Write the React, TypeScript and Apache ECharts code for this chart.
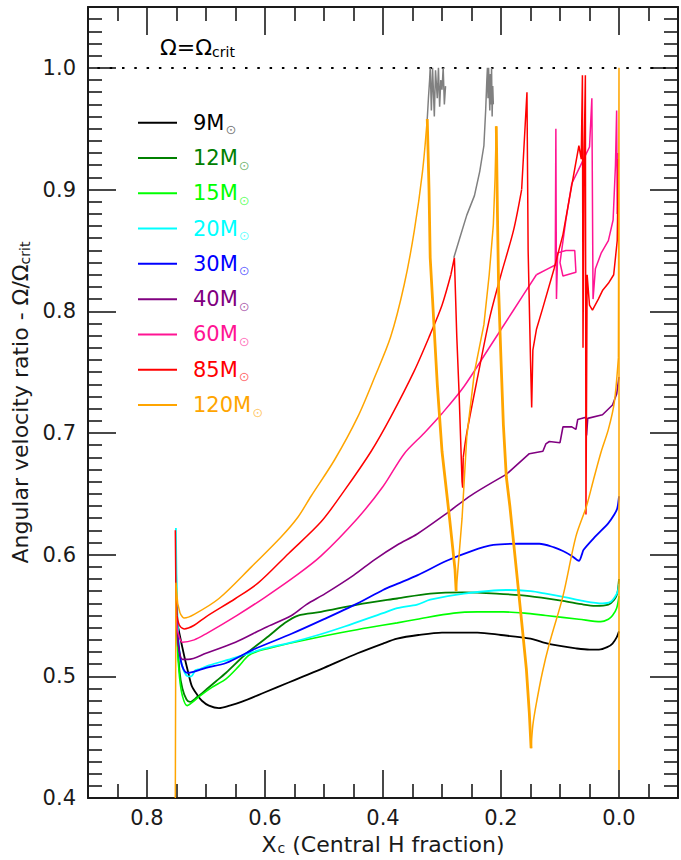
import React, { useEffect, useRef } from "react";
import * as echarts from "echarts";

const FONT = "DejaVu Sans";

const NAMES = ["9M", "12M", "15M", "20M", "30M", "40M", "60M", "85M", "120M"];
const COLORS = ["#000000", "#008000", "#00ff00", "#00ffff", "#0000ff", "#800080", "#ff1493", "#ff0000", "#ffa500"];
const SUN_COLORS = ["rgba(0,0,0,0.55)", "rgba(0,128,0,0.55)", "rgba(0,255,0,0.6)", "rgba(0,255,255,0.6)", "rgba(0,0,255,0.6)", "rgba(128,0,128,0.6)", "rgba(255,20,147,0.6)", "rgba(255,0,0,0.6)", "rgba(255,165,0,0.6)"];

const X_TICKS = [0.8, 0.6, 0.4, 0.2, 0.0];
const Y_TICKS = [0.4, 0.5, 0.6, 0.7, 0.8, 0.9, 1.0];

// 9 Msun
const m9 = [[0.751,0.55],[0.745,0.535],[0.737,0.517],[0.73,0.503],[0.724,0.492],[0.715,0.485],[0.707,0.48],[0.695,0.476],[0.678,0.474],[0.66,0.476],[0.64,0.479],[0.6,0.487],[0.56,0.495],[0.54,0.499],[0.5,0.507],[0.443,0.519],[0.4,0.527],[0.376,0.531],[0.34,0.534],[0.3,0.536],[0.27,0.536],[0.24,0.536],[0.2,0.534],[0.15,0.531],[0.129,0.528],[0.1,0.525],[0.073,0.523],[0.05,0.522],[0.034,0.522],[0.02,0.524],[0.011,0.527],[0.004,0.532],[0.0,0.537]];

// 12 Msun
const m12 = [[0.751,0.6],[0.749,0.54],[0.745,0.505],[0.74,0.49],[0.733,0.481],[0.727,0.479],[0.715,0.483],[0.7,0.489],[0.683,0.496],[0.666,0.503],[0.631,0.519],[0.594,0.533],[0.566,0.544],[0.544,0.55],[0.505,0.553],[0.443,0.559],[0.376,0.564],[0.32,0.568],[0.263,0.569],[0.208,0.568],[0.152,0.566],[0.095,0.562],[0.06,0.559],[0.04,0.558],[0.018,0.559],[0.008,0.563],[0.003,0.568],[0.0,0.58]];

// 15 Msun
const m15 = [[0.751,0.58],[0.749,0.53],[0.745,0.5],[0.74,0.484],[0.732,0.476],[0.725,0.478],[0.71,0.484],[0.69,0.491],[0.666,0.498],[0.645,0.508],[0.628,0.517],[0.61,0.521],[0.594,0.523],[0.56,0.527],[0.522,0.531],[0.47,0.536],[0.426,0.54],[0.376,0.544],[0.342,0.547],[0.28,0.552],[0.24,0.553],[0.196,0.553],[0.16,0.552],[0.124,0.55],[0.068,0.547],[0.031,0.545],[0.018,0.547],[0.011,0.55],[0.004,0.556],[0.0,0.566]];

// 20 Msun
const m20 = [[0.751,0.622],[0.749,0.56],[0.745,0.52],[0.738,0.505],[0.73,0.5],[0.725,0.5],[0.718,0.505],[0.71,0.506],[0.695,0.509],[0.66,0.514],[0.633,0.518],[0.6,0.523],[0.555,0.528],[0.51,0.534],[0.465,0.541],[0.4,0.552],[0.376,0.556],[0.342,0.559],[0.32,0.563],[0.263,0.568],[0.191,0.571],[0.15,0.57],[0.124,0.568],[0.09,0.565],[0.061,0.562],[0.028,0.56],[0.015,0.561],[0.006,0.566],[0.002,0.57],[0.0,0.576]];

// 30 Msun
const m30 = [[0.751,0.57],[0.749,0.54],[0.745,0.52],[0.74,0.508],[0.732,0.503],[0.72,0.504],[0.7,0.507],[0.666,0.511],[0.62,0.522],[0.555,0.535],[0.5,0.547],[0.443,0.56],[0.4,0.571],[0.376,0.576],[0.342,0.583],[0.292,0.595],[0.25,0.603],[0.213,0.608],[0.169,0.609],[0.135,0.609],[0.11,0.606],[0.095,0.603],[0.08,0.599],[0.068,0.595],[0.063,0.6],[0.06,0.604],[0.04,0.615],[0.018,0.626],[0.008,0.633],[0.003,0.638],[0.0,0.648]];

// 40 Msun: smooth part, then staircase
const m40a = [[0.751,0.56],[0.749,0.535],[0.745,0.52],[0.74,0.514],[0.73,0.514],[0.7,0.519],[0.65,0.528],[0.6,0.54],[0.555,0.55],[0.53,0.559],[0.498,0.568],[0.45,0.583],[0.414,0.596],[0.376,0.608],[0.342,0.617],[0.292,0.634],[0.25,0.649],[0.191,0.666]];
const m40b = [[0.191,0.666],[0.152,0.683],[0.129,0.685],[0.124,0.691],[0.118,0.693],[0.1,0.692],[0.095,0.705],[0.08,0.705],[0.073,0.703],[0.07,0.711],[0.056,0.713],[0.055,0.698],[0.053,0.712],[0.028,0.715],[0.011,0.723],[0.004,0.732],[0.0,0.746]];

// 60 Msun
const m60a = [[0.751,0.56],[0.749,0.54],[0.745,0.532],[0.74,0.528],[0.72,0.53],[0.7,0.535],[0.648,0.55],[0.6,0.565],[0.544,0.584],[0.505,0.599],[0.443,0.63],[0.4,0.656],[0.364,0.683],[0.33,0.7],[0.3,0.716],[0.263,0.738],[0.22,0.77],[0.18,0.8],[0.14,0.83]];
const m60b = [[0.14,0.83],[0.12,0.835],[0.108,0.838],[0.107,0.95],[0.106,0.81],[0.104,0.848],[0.09,0.85],[0.075,0.85],[0.073,0.832],[0.095,0.829],[0.1,0.84],[0.09,0.875],[0.08,0.905],[0.07,0.915],[0.06,0.925],[0.05,0.935],[0.046,0.975],[0.044,0.81],[0.04,0.835],[0.03,0.848],[0.018,0.858],[0.01,0.875],[0.006,0.92],[0.004,0.965],[0.003,0.88],[0.001,0.93]];

// 85 Msun
const m85a = [[0.752,0.62],[0.751,0.57],[0.749,0.55]];
const m85b = [[0.749,0.55],[0.745,0.542],[0.737,0.539],[0.72,0.542],[0.7,0.549],[0.65,0.564],[0.611,0.577],[0.56,0.601],[0.505,0.627],[0.465,0.653],[0.42,0.685],[0.387,0.713],[0.347,0.751],[0.32,0.781],[0.3,0.805],[0.285,0.83]];
const m85c = [[0.285,0.83],[0.279,0.844],[0.275,0.78],[0.271,0.732],[0.266,0.66],[0.265,0.655],[0.264,0.68]];
const m85d = [[0.264,0.68],[0.258,0.7],[0.24,0.745],[0.219,0.795],[0.2,0.83],[0.179,0.866],[0.165,0.9]];
const m85e = [[0.165,0.9],[0.156,0.98],[0.154,0.85],[0.15,0.76],[0.148,0.721],[0.146,0.768],[0.14,0.785],[0.129,0.803],[0.11,0.835],[0.095,0.863],[0.085,0.89],[0.068,0.936],[0.064,0.925],[0.062,0.994],[0.061,0.77],[0.059,0.93],[0.057,0.994],[0.056,0.633],[0.054,0.83],[0.05,0.805],[0.045,0.801],[0.035,0.81],[0.028,0.817],[0.018,0.823],[0.009,0.83],[0.003,0.858],[0.001,0.925]];

// 120 Msun
const m120a = [[0.752,0.4],[0.751,0.577],[0.748,0.56],[0.744,0.552]];
const m120b = [[0.744,0.552],[0.737,0.548],[0.72,0.551],[0.678,0.564],[0.623,0.59],[0.572,0.615],[0.544,0.631],[0.522,0.648],[0.482,0.678],[0.443,0.713],[0.414,0.746],[0.387,0.779],[0.364,0.822],[0.347,0.866],[0.333,0.915],[0.325,0.958]];
const m120c = [[0.325,0.958],[0.322,0.9],[0.32,0.844],[0.308,0.74],[0.3,0.685],[0.287,0.629],[0.278,0.588],[0.276,0.57]];
const m120d = [[0.276,0.57],[0.271,0.6],[0.266,0.63],[0.258,0.697],[0.245,0.75],[0.229,0.789],[0.22,0.83],[0.213,0.871],[0.21,0.91],[0.208,0.952]];
const m120e = [[0.208,0.952],[0.206,0.88],[0.204,0.817],[0.2,0.76],[0.196,0.707],[0.191,0.664],[0.185,0.64],[0.174,0.588],[0.165,0.545],[0.157,0.506],[0.152,0.47],[0.149,0.441]];
const m120f = [[0.149,0.441],[0.146,0.46],[0.14,0.478],[0.13,0.503],[0.118,0.527],[0.095,0.566],[0.073,0.615],[0.055,0.64],[0.043,0.662],[0.03,0.685],[0.018,0.703],[0.008,0.725],[0.001,0.762]];
const m120g = [[0.001,0.762],[0.0,1.0],[0.0,0.423]];

// near-critical (grey) parts
const grayA = [[0.325,0.958],[0.323,0.975],[0.321,0.99],[0.32,1.0],[0.318,0.965],[0.316,1.0],[0.313,0.96],[0.311,0.998],[0.308,0.975],[0.306,1.0],[0.304,0.968],[0.302,0.99],[0.3,0.982],[0.298,1.0],[0.296,0.97],[0.294,0.985]];
const grayB = [[0.28,0.844],[0.27,0.86],[0.258,0.879],[0.245,0.895],[0.236,0.915],[0.229,0.936],[0.226,0.965],[0.224,0.99],[0.223,1.0],[0.222,0.975],[0.221,1.0],[0.219,0.965],[0.218,0.995],[0.217,0.97],[0.216,1.0],[0.215,0.96],[0.214,0.985],[0.213,0.97]];

// [model index, data, smooth, line width]
const SEGMENTS: [number, number[][], boolean, number][] = [
  [0, m9, true, 1.8],
  [1, m12, true, 1.8],
  [2, m15, true, 1.6],
  [3, m20, true, 1.8],
  [4, m30, true, 1.8],
  [5, m40a, true, 1.6],
  [5, m40b, false, 1.6],
  [6, m60a, true, 1.5],
  [6, m60b, false, 1.5],
  [7, m85a, false, 1.5],
  [7, m85b, true, 1.5],
  [7, m85c, false, 1.5],
  [7, m85d, true, 1.5],
  [7, m85e, false, 1.5],
  [8, m120a, false, 1.5],
  [8, m120b, true, 1.5],
  [8, m120c, false, 2.8],
  [8, m120d, false, 1.5],
  [8, m120e, false, 2.8],
  [8, m120f, true, 1.5],
  [8, m120g, false, 1.5],
];

const AXIS_COLOR = "#1a1a1a";

function isTick(v: number, ticks: number[]) {
  return ticks.some((t) => Math.abs(t - v) < 1e-6);
}

export default function App() {
  const ref = useRef<HTMLDivElement>(null);

  useEffect(() => {
    if (!ref.current) return;
    const chart = echarts.init(ref.current, null, { renderer: "svg" });

    const axisLineStyle = { color: AXIS_COLOR, width: 2 };
    const tickStyle = { color: AXIS_COLOR, width: 1.6 };

    const baseX = {
      type: "value",
      inverse: true,
      min: -0.1,
      max: 0.9,
      splitNumber: 5,
      splitLine: { show: false },
      axisLine: { show: true, onZero: false, lineStyle: axisLineStyle },
      axisTick: { show: true, inside: true, length: 28, lineStyle: tickStyle },
      minorTick: { show: true, splitNumber: 4, length: 14, lineStyle: tickStyle },
    };
    const baseY = {
      type: "value",
      min: 0.4,
      max: 1.05,
      interval: 0.1,
      splitLine: { show: false },
      axisLine: { show: true, onZero: false, lineStyle: axisLineStyle },
      axisTick: { show: true, inside: true, length: 28, lineStyle: tickStyle },
      minorTick: { show: true, splitNumber: 10, length: 14, lineStyle: tickStyle },
    };

    const series: any[] = SEGMENTS.map(([mi, d, sm, w], k) => ({
      name: NAMES[mi],
      type: "line",
      data: d,
      smooth: sm ? 0.3 : false,
      showSymbol: false,
      symbol: "none",
      silent: true,
      clip: true,
      color: COLORS[mi],
      lineStyle: { color: COLORS[mi], width: w },
      emphasis: { disabled: true },
      z: 2 + mi,
    }));
    series.push(
      { name: "critA", type: "line", data: grayA, showSymbol: false, symbol: "none", silent: true, color: "#808080", lineStyle: { color: "#808080", width: 1.5 }, z: 20 },
      { name: "critB", type: "line", data: grayB, showSymbol: false, symbol: "none", silent: true, color: "#808080", lineStyle: { color: "#808080", width: 1.5 }, z: 20 }
    );
    series[0].markLine = {
      silent: true,
      symbol: ["none", "none"],
      label: { show: false },
      lineStyle: { color: "#000", type: [2.5, 9.8], width: 2 },
      data: [{ yAxis: 1.0 }],
    };

    const option: any = {
      animation: false,
      backgroundColor: "#ffffff",
      textStyle: { fontFamily: FONT },
      grid: { left: 88, top: 7, width: 595, height: 796, containLabel: false },
      xAxis: [
        {
          ...baseX,
          position: "bottom",
          axisLabel: {
            show: true,
            fontSize: 21,
            fontFamily: FONT,
            color: AXIS_COLOR,
            margin: 9,
            showMinLabel: true,
            showMaxLabel: true,
            formatter: (v: number) => (isTick(v, X_TICKS) ? Math.abs(v).toFixed(1) : ""),
          },
          name: "{a|X}{b|c}{a| (Central H fraction)}",
          nameLocation: "middle",
          nameGap: 30,
          nameTextStyle: {
            color: AXIS_COLOR,
            fontFamily: FONT,
            fontSize: 22,
            rich: {
              a: { fontSize: 22, fontFamily: FONT, color: AXIS_COLOR },
              b: { fontSize: 14, fontFamily: FONT, color: AXIS_COLOR, verticalAlign: "bottom", padding: [0, 0, 0, 1] },
            },
          },
        },
        { ...baseX, position: "top", axisLabel: { show: false } },
      ],
      yAxis: [
        {
          ...baseY,
          position: "left",
          axisLabel: {
            show: true,
            fontSize: 21,
            fontFamily: FONT,
            color: AXIS_COLOR,
            margin: 12,
            formatter: (v: number) => (isTick(v, Y_TICKS) ? v.toFixed(1) : ""),
          },
          name: "{a|Angular velocity ratio - Ω/Ω}{b|crit}",
          nameLocation: "middle",
          nameRotate: 90,
          nameGap: 49,
          nameTextStyle: {
            color: AXIS_COLOR,
            fontFamily: FONT,
            fontSize: 22,
            rich: {
              a: { fontSize: 22, fontFamily: FONT, color: AXIS_COLOR },
              b: { fontSize: 14, fontFamily: FONT, color: AXIS_COLOR, verticalAlign: "bottom" },
            },
          },
        },
        { ...baseY, position: "right", axisLabel: { show: false } },
      ],
      legend: {
        show: true,
        orient: "vertical",
        left: 138,
        top: 105,
        padding: 0,
        itemGap: 0,
        itemWidth: 39,
        itemHeight: 2,
        icon: "rect",
        selectedMode: false,
        formatter: (name: string) => `{m|${name}}{s|⊙}`,
        textStyle: { fontFamily: FONT, fontSize: 21, lineHeight: 35.3, padding: [0, 0, 0, 11] },
        data: NAMES.map((n, i) => ({
          name: n,
          itemStyle: { color: COLORS[i] },
          textStyle: {
            color: COLORS[i],
            fontFamily: FONT,
            fontSize: 21,
            lineHeight: 35.3,
            padding: [0, 0, 0, 11],
            rich: {
              m: { fontSize: 21, fontFamily: FONT, color: COLORS[i], lineHeight: 35.3 },
              s: { fontSize: 13, fontFamily: FONT, color: SUN_COLORS[i], verticalAlign: "bottom", lineHeight: 13, padding: [0, 0, 4, 1] },
            },
          },
        })),
      },
      graphic: [
        {
          type: "text",
          left: 160,
          top: 36,
          silent: true,
          style: {
            text: "{a|Ω=Ω}{b|crit}",
            fill: "#000",
            rich: {
              a: { fontSize: 22, fontFamily: FONT, fill: "#000", lineHeight: 24 },
              b: { fontSize: 14, fontFamily: FONT, fill: "#000", verticalAlign: "bottom", lineHeight: 14 },
            },
          },
        },
      ],
      series,
    };

    chart.setOption(option);
    return () => chart.dispose();
  }, []);

  return (
    <div
      ref={ref}
      style={{ position: "absolute", left: 0, top: 0, width: 681, height: 860, background: "#fff" }}
    />
  );
}
